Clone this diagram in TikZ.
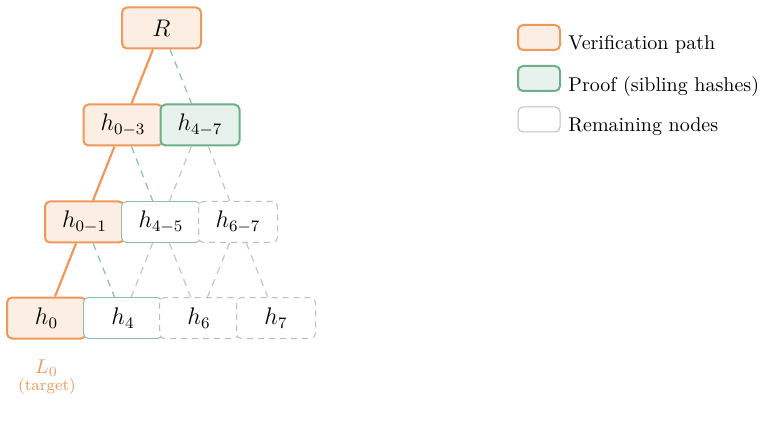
\documentclass[tikz,border=0pt]{standalone}
\definecolor{po}{HTML}{F0975A}
\definecolor{pofill}{HTML}{FCEEE2}
\definecolor{pg}{HTML}{6DAF8A}
\definecolor{pgfill}{HTML}{E8F2EC}
\definecolor{pgrey}{HTML}{BDBDBD}
\tikzset{
  hnode/.style={rectangle, rounded corners=2.5pt, minimum width=39.5pt, minimum height=20.5pt, inner sep=0pt, font=\large},
  pathnode/.style={hnode, draw=po, fill=pofill, line width=1pt},
  proofnode/.style={hnode, draw=pg, fill=pgfill, line width=1pt},
  proofwhite/.style={hnode, draw=pg!80, fill=white, line width=0.45pt},
  restnode/.style={hnode, draw=pgrey, fill=white, line width=0.5pt, dash pattern=on 3pt off 2.5pt},
  pathedge/.style={draw=po, line width=1.1pt},
  proofedge/.style={draw=pg!80, line width=0.6pt, dash pattern=on 3.5pt off 3pt},
  restedge/.style={draw=pgrey!90, line width=0.6pt, dash pattern=on 3.5pt off 3pt},
  legbox/.style={rectangle, rounded corners=2.5pt, minimum width=21pt, minimum height=12.5pt, inner sep=0pt},
  legtext/.style={anchor=base west, inner sep=0pt}
}
\begin{document}
\begin{tikzpicture}[x=0.5pt,y=-0.5pt]
\useasboundingbox (0,0) rectangle (769,432);
% nodes
\node[pathnode] (R) at (161.5,28) {$R$};
\node[pathnode] (h03) at (123,125) {$h_{0-3}$};
\node[proofnode] (h47) at (200,125) {$h_{4-7}$};
\node[pathnode] (h01) at (84.5,222) {$h_{0-1}$};
\node[proofwhite] (h45) at (161,222) {$h_{4-5}$};
\node[restnode] (h67) at (238,222) {$h_{6-7}$};
\node[pathnode] (h0) at (46.5,318) {$h_{0}$};
\node[proofwhite] (h4) at (123,318) {$h_{4}$};
\node[restnode] (h6) at (199,318) {$h_{6}$};
\node[restnode] (h7) at (276,318) {$h_{7}$};
% edges
\draw[pathedge] (R) -- (h03);
\draw[proofedge] (R) -- (h47);
\draw[pathedge] (h03) -- (h01);
\draw[proofedge] (h03) -- (h45);
\draw[restedge] (h47) -- (h45);
\draw[restedge] (h47) -- (h67);
\draw[pathedge] (h01) -- (h0);
\draw[proofedge] (h01) -- (h4);
\draw[restedge] (h45) -- (h4);
\draw[restedge] (h45) -- (h6);
\draw[restedge] (h67) -- (h6);
\draw[restedge] (h67) -- (h7);
% target label
\node[text=po, inner sep=0pt] (L0) at (46.5,368) {$L_0$};
\node[text=po, inner sep=0pt, font=\footnotesize] (tgt) at (47,386) {(target)};
% legend
\node[legbox, draw=po, fill=pofill, line width=1pt] (lg1) at (539,37.5) {};
\node[legbox, draw=pg, fill=pgfill, line width=1pt] (lg2) at (539,78.5) {};
\node[legbox, draw=pgrey, fill=white, line width=0.5pt] (lg3) at (539,119.5) {};
\node[legtext] (lt1) at (568,50) {Verification path};
\node[legtext] (lt2) at (568,91.5) {Proof (sibling hashes)};
\node[legtext] (lt3) at (568,132) {Remaining nodes};
\end{tikzpicture}
\end{document}
